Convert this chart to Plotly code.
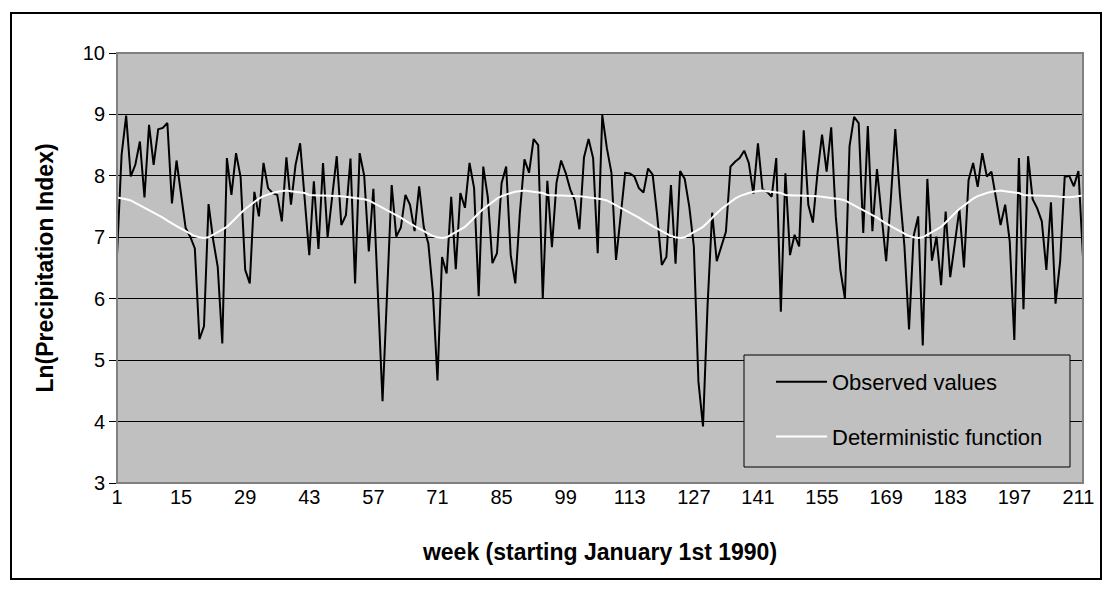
import plotly.graph_objects as go

weeks = list(range(1, 213))

observed = [
    6.71, 8.34, 8.98, 7.99, 8.18, 8.56, 7.65, 8.83, 8.18, 8.76,
    8.78, 8.86, 7.55, 8.25, 7.70, 7.15, 7.01, 6.82, 5.34, 5.55,
    7.54, 6.96, 6.52, 5.27, 8.29, 7.69, 8.37, 7.98, 6.47, 6.25,
    7.74, 7.34, 8.21, 7.80, 7.72, 7.69, 7.26, 8.30, 7.53, 8.18,
    8.53, 7.60, 6.71, 7.91, 6.81, 8.21, 7.00, 7.66, 8.32, 7.20,
    7.36, 8.28, 6.25, 8.37, 8.00, 6.77, 7.79, 6.05, 4.33, 6.10,
    7.85, 7.01, 7.16, 7.69, 7.53, 7.10, 7.83, 7.17, 6.90, 6.10,
    4.67, 6.68, 6.41, 7.66, 6.48, 7.72, 7.48, 8.21, 7.80, 6.04,
    8.15, 7.65, 6.58, 6.74, 7.88, 8.15, 6.71, 6.25, 7.40, 8.27,
    8.05, 8.60, 8.50, 6.00, 7.92, 6.84, 7.89, 8.25, 8.05, 7.78,
    7.60, 7.13, 8.30, 8.60, 8.29, 6.74, 8.99, 8.45, 8.05, 6.63,
    7.37, 8.05, 8.04, 7.99, 7.80, 7.73, 8.12, 8.02, 7.35, 6.55,
    6.68, 7.85, 6.57, 8.08, 7.95, 7.50, 6.85, 4.65, 3.92, 5.90,
    7.40, 6.61, 6.85, 7.09, 8.15, 8.23, 8.29, 8.41, 8.21, 7.71,
    8.53, 7.78, 7.74, 7.66, 8.29, 5.79, 8.04, 6.71, 7.04, 6.85,
    8.74, 7.53, 7.24, 8.04, 8.67, 8.07, 8.79, 7.34, 6.47, 6.00,
    8.48, 8.96, 8.86, 7.07, 8.81, 7.10, 8.11, 7.39, 6.61, 7.59,
    8.76, 7.70, 6.85, 5.50, 7.02, 7.34, 5.24, 7.95, 6.62, 7.01,
    6.22, 7.42, 6.35, 6.90, 7.46, 6.51, 7.93, 8.21, 7.82, 8.37,
    7.99, 8.07, 7.60, 7.20, 7.53, 6.93, 5.33, 8.29, 5.83, 8.32,
    7.62, 7.47, 7.26, 6.47, 7.57, 5.92, 6.60, 7.98, 8.00, 7.83,
    8.08, 6.68,
]

deterministic = [
    7.65, 7.64, 7.62, 7.60, 7.56, 7.52, 7.48, 7.45, 7.41, 7.37,
    7.32, 7.27, 7.22, 7.18, 7.14, 7.10, 7.05, 7.02, 7.00, 6.99,
    7.00, 7.04, 7.08, 7.12, 7.17, 7.24, 7.32, 7.39, 7.46, 7.52,
    7.58, 7.63, 7.67, 7.70, 7.72, 7.74, 7.75, 7.76, 7.75, 7.74,
    7.73, 7.72, 7.69, 7.68, 7.68, 7.68, 7.68, 7.68, 7.68, 7.67,
    7.66, 7.65,
    7.65, 7.64, 7.62, 7.60, 7.56, 7.52, 7.48, 7.45, 7.41, 7.37,
    7.32, 7.27, 7.22, 7.18, 7.14, 7.10, 7.05, 7.02, 7.00, 6.99,
    7.00, 7.04, 7.08, 7.12, 7.17, 7.24, 7.32, 7.39, 7.46, 7.52,
    7.58, 7.63, 7.67, 7.70, 7.72, 7.74, 7.75, 7.76, 7.75, 7.74,
    7.73, 7.72, 7.69, 7.68, 7.68, 7.68, 7.68, 7.68, 7.68, 7.67,
    7.66, 7.65,
    7.65, 7.64, 7.62, 7.60, 7.56, 7.52, 7.48, 7.45, 7.41, 7.37,
    7.32, 7.27, 7.22, 7.18, 7.14, 7.10, 7.05, 7.02, 7.00, 6.99,
    7.00, 7.04, 7.08, 7.12, 7.17, 7.24, 7.32, 7.39, 7.46, 7.52,
    7.58, 7.63, 7.67, 7.70, 7.72, 7.74, 7.75, 7.76, 7.75, 7.74,
    7.73, 7.72, 7.69, 7.68, 7.68, 7.68, 7.68, 7.68, 7.68, 7.67,
    7.66, 7.65,
    7.65, 7.64, 7.62, 7.60, 7.56, 7.52, 7.48, 7.45, 7.41, 7.37,
    7.32, 7.27, 7.22, 7.18, 7.14, 7.10, 7.05, 7.02, 7.00, 6.99,
    7.00, 7.04, 7.08, 7.12, 7.17, 7.24, 7.32, 7.39, 7.46, 7.52,
    7.58, 7.63, 7.67, 7.70, 7.72, 7.74, 7.75, 7.76, 7.75, 7.74,
    7.73, 7.72, 7.69, 7.68, 7.68, 7.68, 7.68, 7.68, 7.68, 7.67,
    7.66, 7.65,
    7.65, 7.66, 7.67, 7.68,
]

x_tick_labels = [1, 15, 29, 43, 57, 71, 85, 99, 113, 127, 141, 155, 169, 183, 197, 211]
y_tick_labels = [3, 4, 5, 6, 7, 8, 9, 10]

FONT = "Liberation Sans, Arial, sans-serif"
W, H = 1114, 592
L, R, T, B = 117, 1083, 53, 483


def px(xp):
    return (xp - L) / (R - L)


def py(yp):
    return (B - yp) / (B - T)


fig = go.Figure()
fig.add_trace(go.Scatter(
    x=weeks, y=observed, mode="lines", name="Observed values",
    line=dict(color="black", width=2), legendgroup="a",
))
fig.add_trace(go.Scatter(
    x=weeks, y=deterministic, mode="lines", name="Deterministic function",
    line=dict(color="white", width=2), legendgroup="b",
))

shapes = [
    # outer chart border
    dict(type="rect", xref="paper", yref="paper",
         x0=px(11), x1=px(1101), y0=py(579), y1=py(13),
         line=dict(color="black", width=2), fillcolor="rgba(0,0,0,0)", layer="below"),
    # plot area border (grey)
    dict(type="rect", xref="paper", yref="paper", x0=0, x1=1, y0=0, y1=1,
         line=dict(color="#808080", width=2), fillcolor="rgba(0,0,0,0)", layer="above"),
    # legend box
    dict(type="rect", xref="paper", yref="paper",
         x0=px(744), x1=px(1070), y0=py(467), y1=py(355),
         line=dict(color="black", width=1), fillcolor="#C0C0C0", layer="above"),
]

fig.update_layout(
    width=W, height=H,
    margin=dict(l=L, r=W - R, t=T, b=H - B, autoexpand=False),
    paper_bgcolor="white", plot_bgcolor="#C0C0C0",
    font=dict(family=FONT, size=20, color="black"),
    shapes=shapes,
    showlegend=True,
    legend=dict(
        x=px(771), y=py(361), xanchor="left", yanchor="top",
        bgcolor="rgba(0,0,0,0)", borderwidth=0,
        font=dict(family=FONT, size=22, color="black"),
        itemwidth=51, tracegroupgap=23, traceorder="grouped",
    ),
    xaxis=dict(
        range=[1, 212], tickmode="array", tickvals=x_tick_labels,
        ticktext=[str(v) for v in x_tick_labels],
        showgrid=False, zeroline=False,
        showline=True, linecolor="black", linewidth=1,
        ticks="", ticklabelstandoff=-4,
        tickfont=dict(family=FONT, size=20),
        title=dict(text="<b>week (starting January 1st 1990)</b>",
                   font=dict(family=FONT, size=23), standoff=36),
    ),
    yaxis=dict(
        range=[3, 10], tickmode="array", tickvals=y_tick_labels,
        showgrid=True, gridcolor="black", gridwidth=1, zeroline=False,
        showline=True, linecolor="black", linewidth=1,
        ticks="outside", ticklen=7, tickcolor="black",
        tickfont=dict(family=FONT, size=20),
        title=dict(text="<b>Ln(Precipitation Index)</b>",
                   font=dict(family=FONT, size=23), standoff=22),
    ),
)

fig.write_html("out.html")
